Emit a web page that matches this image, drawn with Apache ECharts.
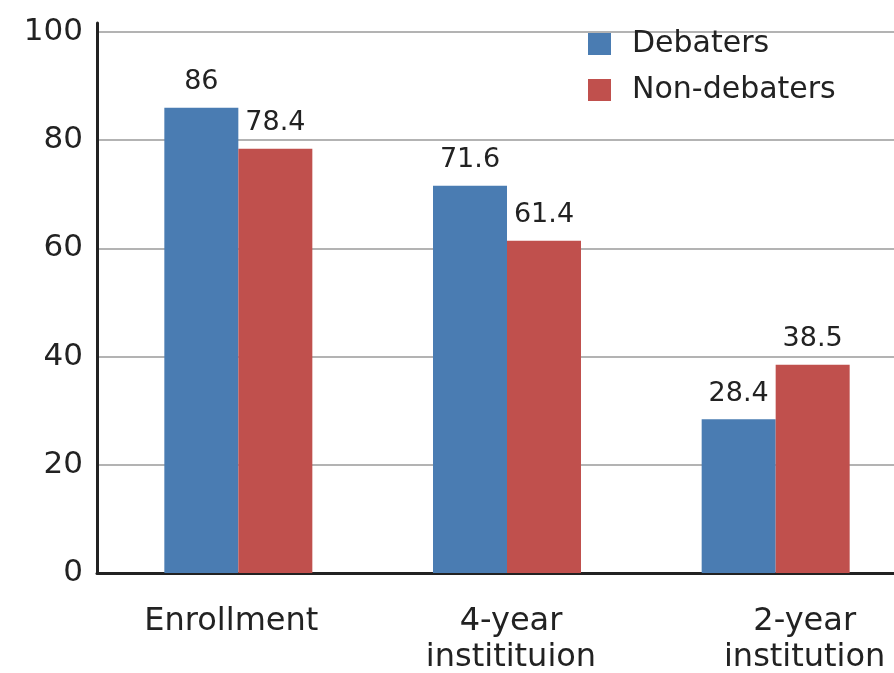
<!DOCTYPE html>
<html>
<head>
<meta charset="utf-8">
<script src="https://cdn.jsdelivr.net/npm/echarts@6/dist/echarts.min.js"></script>
<style>
  html, body { margin: 0; padding: 0; background: #fff; }
  #chart { width: 894px; height: 673px; }
</style>
</head>
<body>
<div id="chart"></div>
<script>
// Outcome rates (%) for debaters vs. non-debaters
const categories = ['Enrollment', '4-year\ninstitituion', '2-year\ninstitution'];
const debaters = [86, 71.6, 28.4];
const nonDebaters = [78.4, 61.4, 38.5];
const seriesNames = ['Debaters', 'Non-debaters'];
const yMin = 0;
const yMax = 100;
const yStep = 20;

const FONT = '"DejaVu Sans", Verdana, sans-serif';
const TEXT = '#222';
const BLUE = '#4a7cb2';
const RED = '#c0504d';

// Horizontal shift of each category caption (rich-text padding)
const labelStyles = {
  c0: { padding: [0, 14, 0, 0] },
  c1: { padding: [0, 0, 0, 8] },
  c2: { padding: [0, 0, 0, 58] }
};
Object.values(labelStyles).forEach(s => {
  s.fontSize = 32; s.fontFamily = FONT; s.color = TEXT; s.lineHeight = 36;
});

const chart = echarts.init(document.getElementById('chart'));
chart.setOption({
  backgroundColor: '#fff',
  animation: false,
  grid: [
    // frame grid: axes lines, gridlines and value labels
    { left: 97, right: 0, top: 23, bottom: 100, containLabel: false, outerBoundsMode: 'none' },
    // bar grid (runs slightly past the right edge)
    { left: 104, width: 806, top: 32, bottom: 100, containLabel: false, outerBoundsMode: 'none' }
  ],
  legend: {
    data: seriesNames,
    orient: 'vertical',
    left: 588,
    top: 29,
    padding: 0,
    itemWidth: 23,
    itemHeight: 22,
    itemGap: 16,
    icon: 'rect',
    textStyle: { fontSize: 30, fontFamily: FONT, color: TEXT, padding: [0, 0, 0, 16] }
  },
  xAxis: [
    {
      gridIndex: 0, type: 'category', data: [''],
      axisLine: { show: true, lineStyle: { color: '#222', width: 3 } },
      axisTick: { show: false }, axisLabel: { show: false }, splitLine: { show: false }
    },
    {
      gridIndex: 1, type: 'category', data: categories,
      axisLine: { show: false }, axisTick: { show: false }, splitLine: { show: false },
      axisLabel: {
        interval: 0, margin: 31, verticalAlign: 'top',
        formatter: (v, i) => '{c' + i + '|' + v + '}',
        rich: labelStyles
      }
    }
  ],
  yAxis: [
    {
      gridIndex: 0, type: 'value', min: yMin, max: yMax + 9 / 5.41, interval: yStep,
      axisLine: { show: true, lineStyle: { color: '#222', width: 3 } },
      axisTick: { show: false },
      axisLabel: {
        showMaxLabel: false, margin: 14,
        fontSize: 31, fontFamily: FONT, color: TEXT
      },
      splitLine: { show: true, showMaxLine: false, lineStyle: { color: '#9a9a9a', width: 1.5 } }
    },
    {
      gridIndex: 1, type: 'value', min: yMin, max: yMax, interval: yStep,
      show: false, splitLine: { show: false }
    }
  ],
  series: [
    {
      name: seriesNames[0], type: 'bar', xAxisIndex: 1, yAxisIndex: 1,
      data: debaters, barWidth: 74, barGap: '0%',
      itemStyle: { color: BLUE },
      label: { show: true, position: 'top', distance: 12, fontSize: 27, fontFamily: FONT, color: TEXT }
    },
    {
      name: seriesNames[1], type: 'bar', xAxisIndex: 1, yAxisIndex: 1,
      data: nonDebaters, barWidth: 74, barGap: '0%',
      itemStyle: { color: RED },
      label: { show: true, position: 'top', distance: 12, fontSize: 27, fontFamily: FONT, color: TEXT }
    }
  ]
});
</script>
</body>
</html>
